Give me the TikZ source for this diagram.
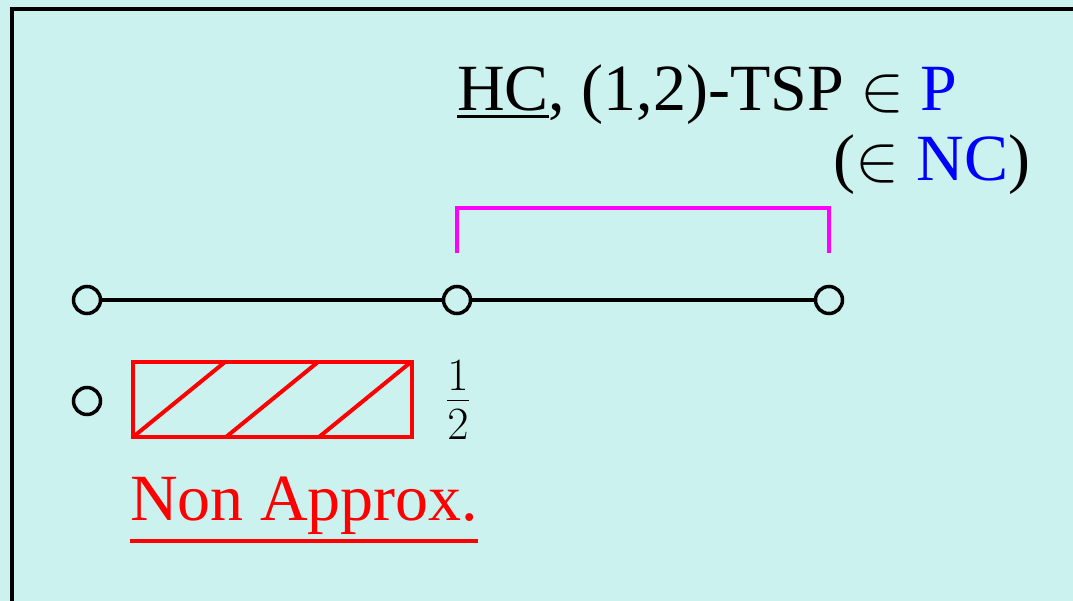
\RequirePackage{fix-cm}
\documentclass[tikz,border=0pt]{standalone}
\usepackage{fontspec}
\setmainfont{Liberation Serif}
\definecolor{bg}{RGB}{204,242,240}
\definecolor{mag}{RGB}{255,0,255}
\begin{document}
\begin{tikzpicture}[x=1pt,y=-1pt,
  dot/.style={circle,draw=black,line width=3.5pt,minimum size=27pt,inner sep=0pt,fill=bg},
  txt/.style={inner sep=0pt,outer sep=0pt,font=\fontsize{66}{72}\selectfont},
  edge/.style={line width=3.5pt,black},
  hatch/.style={red,line width=4pt}]
\fill[bg] (0,0) rectangle (1073,601);
\useasboundingbox (0,0) rectangle (1073,601);
\draw[line width=4pt] (11.5,601) -- (11.5,9.5) -- (1073,9.5);
% top labels
\node[txt,anchor=base west] (hc) at (457,111) {HC};
\node[txt,anchor=base west] (rest) at (hc.base east) {, (1,2)-TSP $\in$ \textcolor{blue}{P}};
\draw[line width=3pt] ([yshift=-6pt]hc.base west) -- ([yshift=-6pt]hc.base east);
\node[txt,anchor=base east] (nc) at (1030,181) {($\in$ \textcolor{blue}{NC})};
% bracket
\coordinate (bl) at (457,253);
\coordinate (br) at (829,253);
\draw[mag,line width=4pt] (bl) -- ++(0,-45) -| (br);
% line with circles
\node[dot] (a) at (87,300) {};
\node[dot] (b) at (457,300) {};
\node[dot] (c) at (829,300) {};
\draw[edge] (a) -- (b);
\draw[edge] (b) -- (c);
% lower row
\node[dot] (d) at (87,401) {};
\draw[hatch] (133,362) rectangle (412,437);
\draw[hatch] (133,437) -- (225,362);
\draw[hatch] (226,437) -- (318,362);
\draw[hatch] (319,437) -- (411,362);
\node[txt,anchor=center] (half) at (458,400) {$\frac{1}{2}$};
% Non Approx.
\node[txt,anchor=base west,text=red] (na) at (130,520) {Non Approx.};
\draw[red,line width=3.5pt] ([yshift=-21pt]na.base west) -- ([yshift=-21pt]na.base east);
\end{tikzpicture}
\end{document}
